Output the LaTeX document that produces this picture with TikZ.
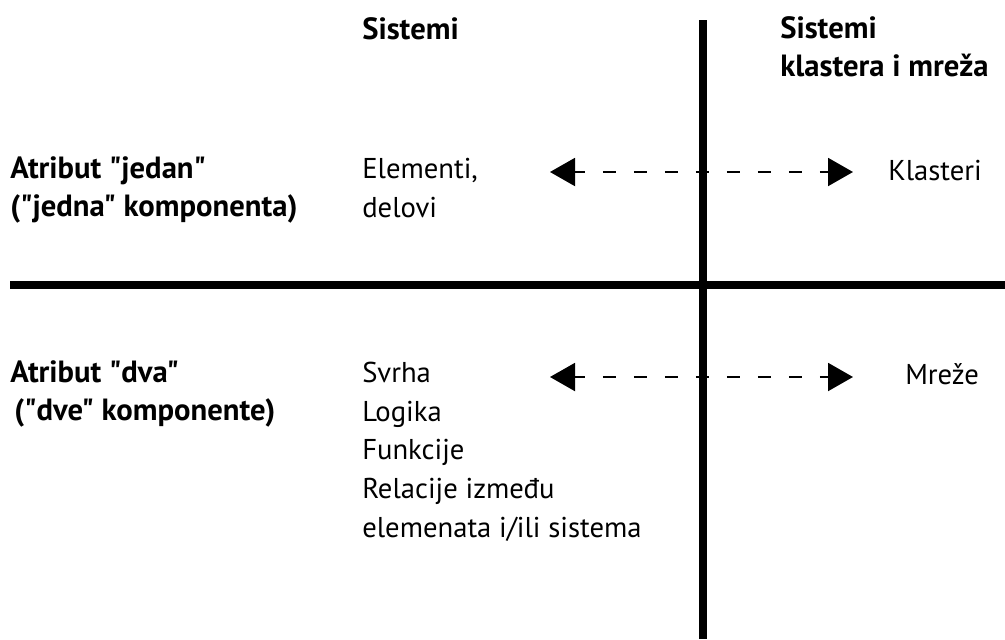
\documentclass[tikz,border=0pt]{standalone}
\usepackage{fontspec}
\setmainfont{PT Sans}[Ligatures=TeXOff]
\usetikzlibrary{arrows.meta}
\newcommand{\px}{0.75pt}
\newcommand{\txtfont}{\fontsize{21.5pt}{29pt}\selectfont}
\newcommand{\headfont}{\fontsize{23pt}{28pt}\selectfont\bfseries}

\begin{document}
\begin{tikzpicture}[x=\px, y=-\px,
    head/.style={font=\headfont, anchor=base west, inner sep=0pt, align=left},
    txt/.style={font=\txtfont, anchor=base west, inner sep=0pt, align=left},
    axis/.style={line width=6pt},
    link/.style={line width=1.5pt, dash pattern=on 9.75pt off 13.5pt, dash phase=1.9pt,
        {Triangle[length=18.75pt,width=21pt]}-{Triangle[length=18.75pt,width=21pt]}}]
    \useasboundingbox (0,0) rectangle (1005,639);

    % Axes
    \coordinate (axis-top) at (703,20);
    \coordinate (axis-bottom) at (703,639);
    \coordinate (axis-left) at (10,285);
    \coordinate (axis-right) at (1005,285);
    \draw[axis] (axis-top) -- (axis-bottom);
    \draw[axis] (axis-left) -- (axis-right);

    % Column heads (base = last line)
    \node[head] (head-1) at (362,39) {Sistemi};
    \node[head] (head-2) at (780,76) {Sistemi\\klastera i mreža};

    % First row
    \node[head] (attr-1) at (10,216) {Atribut "jedan"\\("jedna" komponenta)};
    \node[txt] (sys-1) at (362,217) {Elementi,\\delovi};
    \node[txt] (net-1) at (888,180) {Klasteri};

    % Second row
    \node[head] (attr-2) at (10,420) {Atribut "dva"\\\hspace{3pt}("dve" komponente)};
    \node[txt] (sys-2) at (362,537) {Svrha\\Logika\\Funkcije\\Relacije između\\elemenata i/ili sistema};
    \node[txt] (net-2) at (905,384) {Mreže};

    % Arrows
    \coordinate (link-1-w) at (550,172);
    \coordinate (link-1-e) at (853,172);
    \coordinate (link-2-w) at (550,377);
    \coordinate (link-2-e) at (853,377);
    \draw[link] (link-1-w) -- (link-1-e);
    \draw[link] (link-2-w) -- (link-2-e);

\end{tikzpicture}
\end{document}
